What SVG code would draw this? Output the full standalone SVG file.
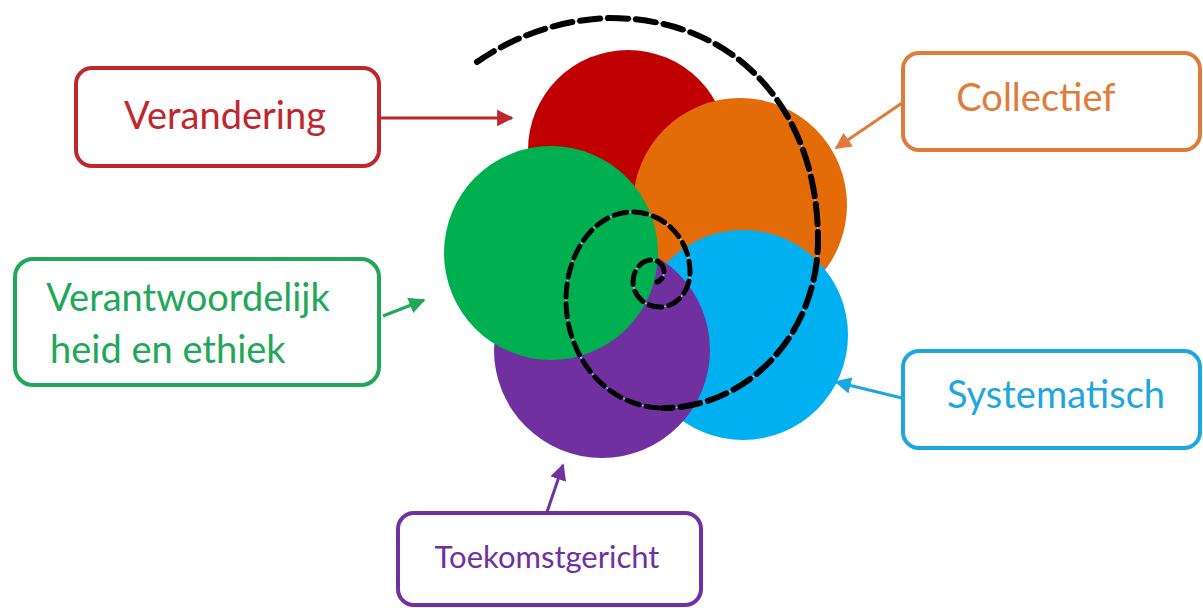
<svg xmlns="http://www.w3.org/2000/svg" width="1203" height="608" viewBox="0 0 1203 608">
<defs>
<style>
.box{fill:#fff;stroke-width:4}
.lbl{font-family:Lato,"Liberation Sans",sans-serif;font-size:38px;text-anchor:middle}
.small{font-size:31px}
.con{fill:none;stroke-width:3}
</style>
<marker id="mR" viewBox="0 0 10 10" refX="9" refY="5" markerWidth="5.5" markerHeight="5.5" orient="auto" markerUnits="strokeWidth"><path d="M0,0 L10,5 L0,10 z" fill="#c0272d"/></marker>
<marker id="mO" viewBox="0 0 10 10" refX="9" refY="5" markerWidth="5.5" markerHeight="5.5" orient="auto" markerUnits="strokeWidth"><path d="M0,0 L10,5 L0,10 z" fill="#e07b39"/></marker>
<marker id="mG" viewBox="0 0 10 10" refX="9" refY="5" markerWidth="5.5" markerHeight="5.5" orient="auto" markerUnits="strokeWidth"><path d="M0,0 L10,5 L0,10 z" fill="#20a858"/></marker>
<marker id="mB" viewBox="0 0 10 10" refX="9" refY="5" markerWidth="5.5" markerHeight="5.5" orient="auto" markerUnits="strokeWidth"><path d="M0,0 L10,5 L0,10 z" fill="#1ea6e0"/></marker>
<marker id="mP" viewBox="0 0 10 10" refX="9" refY="5" markerWidth="5.5" markerHeight="5.5" orient="auto" markerUnits="strokeWidth"><path d="M0,0 L10,5 L0,10 z" fill="#7030a0"/></marker>
</defs>
<rect width="1203" height="608" fill="#fff"/>
<g id="circles">
<circle cx="628" cy="150" r="100" fill="#c00000"/>
<circle cx="740" cy="205" r="107" fill="#e36c09"/>
<circle cx="743" cy="335" r="105" fill="#00b0f0"/>
<circle cx="602" cy="350" r="108" fill="#7030a0"/>
<circle cx="551" cy="253" r="107" fill="#00b050"/>
</g>
<g id="spiral" fill="none">
<path d="M477 62 A245 245 0 0 1 610 18 C736 18 818 110 818 240 A155 168 0 0 1 663 408 A97 108 0 0 1 566 300 A66 88 0 0 1 632 212 A58 60 0 0 1 690 272 A30 35 0 0 1 660 307 A27 25 0 0 1 633 282 A19 22 0 0 1 652 260 A12 12 0 0 1 664 272 A10 10 0 0 1 657 282" stroke="#9dc3e6" stroke-width="1.5"/>
<path d="M477 62 A245 245 0 0 1 610 18 C736 18 818 110 818 240 A155 168 0 0 1 663 408" stroke="#000" stroke-width="6" stroke-dasharray="20 8" stroke-linecap="round"/>
<path d="M663 408 A97 108 0 0 1 566 300 A66 88 0 0 1 632 212 A58 60 0 0 1 690 272 A30 35 0 0 1 660 307 A27 25 0 0 1 633 282 A19 22 0 0 1 652 260 A12 12 0 0 1 664 272 A10 10 0 0 1 657 282" stroke="#000" stroke-width="5" stroke-dasharray="13 7" stroke-dashoffset="-4" stroke-linecap="round"/>
</g>
<g id="connectors">
<line class="con" x1="380" y1="118" x2="512" y2="118" stroke="#c0272d" marker-end="url(#mR)"/>
<line class="con" x1="902" y1="103" x2="836" y2="148" stroke="#e07b39" marker-end="url(#mO)"/>
<line class="con" x1="383" y1="316" x2="424" y2="300" stroke="#20a858" marker-end="url(#mG)"/>
<line class="con" x1="902" y1="398" x2="836" y2="382" stroke="#1ea6e0" marker-end="url(#mB)"/>
<line class="con" x1="547" y1="512" x2="563" y2="465" stroke="#7030a0" marker-end="url(#mP)"/>
</g>
<g id="verandering">
<rect class="box" x="76" y="68" width="303" height="98" rx="16" stroke="#c0272d"/>
<text class="lbl" x="225" y="129" fill="#c0272d">Verandering</text>
</g>
<g id="collectief">
<rect class="box" x="903" y="53" width="297" height="97" rx="16" stroke="#e07b39"/>
<text class="lbl" x="1036" y="111" fill="#e07b39">Collectief</text>
</g>
<g id="verantwoordelijkheid">
<rect class="box" x="15" y="259" width="364" height="126" rx="18" stroke="#20a858" stroke-width="6"/>
<text class="lbl" x="188" y="311" fill="#20a858">Verantwoordelijk</text>
<text x="50" y="363" fill="#20a858" font-family="Lato, 'Liberation Sans', sans-serif" font-size="38">heid en ethiek</text>
</g>
<g id="systematisch">
<rect class="box" x="903" y="351" width="297" height="97" rx="16" stroke="#1ea6e0"/>
<text class="lbl" x="1056" y="408" fill="#1ea6e0">Systematisch</text>
</g>
<g id="toekomstgericht">
<rect class="box" x="398" y="513" width="303" height="92" rx="16" stroke="#7030a0"/>
<text class="lbl small" x="547" y="568" fill="#7030a0">Toekomstgericht</text>
</g>
</svg>
